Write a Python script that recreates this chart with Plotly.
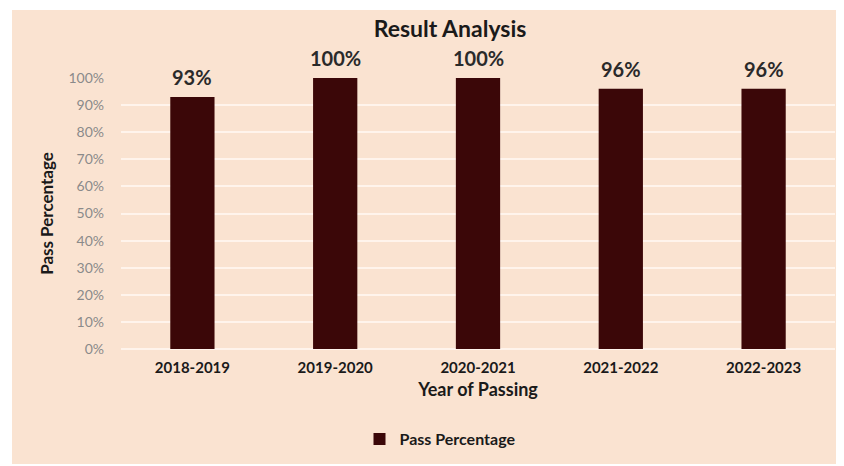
import plotly.graph_objects as go

years = ["2018-2019", "2019-2020", "2020-2021", "2021-2022", "2022-2023"]
pass_pct = [0.93, 1.00, 1.00, 0.96, 0.96]
series_name = "Pass Percentage"
y_ticks = [0, 0.1, 0.2, 0.3, 0.4, 0.5, 0.6, 0.7, 0.8, 0.9, 1.0]

BG = "#FAE3D1"
BAR = "#3B0708"
GRID = "#FFF4EC"
FONT = "Lato"

# page body has an 8px margin, so the figure is drawn 8px in from the top-left
OFF = 8
W, H = 844 - OFF, 466 - OFF
L, R, T, B = 121 - OFF, 9, 78 - OFF, 117
pw, ph = W - L - R, H - T - B


def px_x(xr):  # reference pixel x -> paper x
    return (xr - OFF - L) / pw


def px_y(yr):  # reference pixel y -> paper y
    return (T + ph - (yr - OFF)) / ph


fig = go.Figure()
fig.add_trace(go.Bar(
    x=years, y=pass_pct, name=f"<b>{series_name}</b>",
    marker=dict(color=BAR, line=dict(width=0)),
    showlegend=True, cliponaxis=False,
))

for xv, yv in zip(years, pass_pct):
    fig.add_annotation(
        x=xv, y=yv, xref="x", yref="y",
        text=f"<b>{round(yv*100)}%</b>", showarrow=False,
        yanchor="bottom", yshift=6,
        font=dict(family=FONT, size=20, color="#2a2a2a"),
    )

# peach chart-area background with a thin white border
fig.add_shape(
    type="rect", xref="paper", yref="paper", layer="below",
    x0=px_x(12), x1=px_x(850),
    y0=px_y(464), y1=px_y(10),
    fillcolor=BG, line=dict(width=0),
)

fig.update_layout(
    width=W, height=H,
    margin=dict(l=L, r=R, t=T, b=B, pad=0),
    paper_bgcolor="white",
    plot_bgcolor="rgba(0,0,0,0)",
    bargap=0.69,
    font=dict(family=FONT),
    title=dict(
        text="<b>Result Analysis</b>", x=(450 - OFF) / W, y=1 - (29 - OFF) / H,
        xref="container", yref="container", xanchor="center", yanchor="middle",
        font=dict(family=FONT, size=23, color="#1a1a1a"),
    ),
    legend=dict(
        orientation="h", x=px_x(440), y=px_y(439),
        xanchor="center", yanchor="middle",
        font=dict(family=FONT, size=16, color="#1a1a1a"),
        bgcolor="rgba(0,0,0,0)",
        itemwidth=30,
    ),
    xaxis=dict(
        showgrid=False, showline=False, zeroline=False,
        tickfont=dict(family=FONT, size=15, color="#1a1a1a"),
        tickprefix="<b>", ticksuffix="</b>",
        ticklabelstandoff=8,
        title=dict(text="<b>Year of Passing</b>", standoff=8,
                   font=dict(family=FONT, size=18, color="#1a1a1a")),
    ),
    yaxis=dict(
        range=[0, 1.0], tickvals=y_ticks, tickformat=".0%",
        showgrid=True, gridcolor=GRID, gridwidth=1.5,
        zeroline=True, zerolinecolor=GRID, zerolinewidth=1.5,
        showline=False,
        tickfont=dict(family=FONT, size=14, color="#8a8a8a"),
        ticklabelstandoff=16,
        title=dict(text="<b>Pass Percentage</b>", standoff=10,
                   font=dict(family=FONT, size=17, color="#1a1a1a")),
    ),
)

fig.write_html("out.html")
